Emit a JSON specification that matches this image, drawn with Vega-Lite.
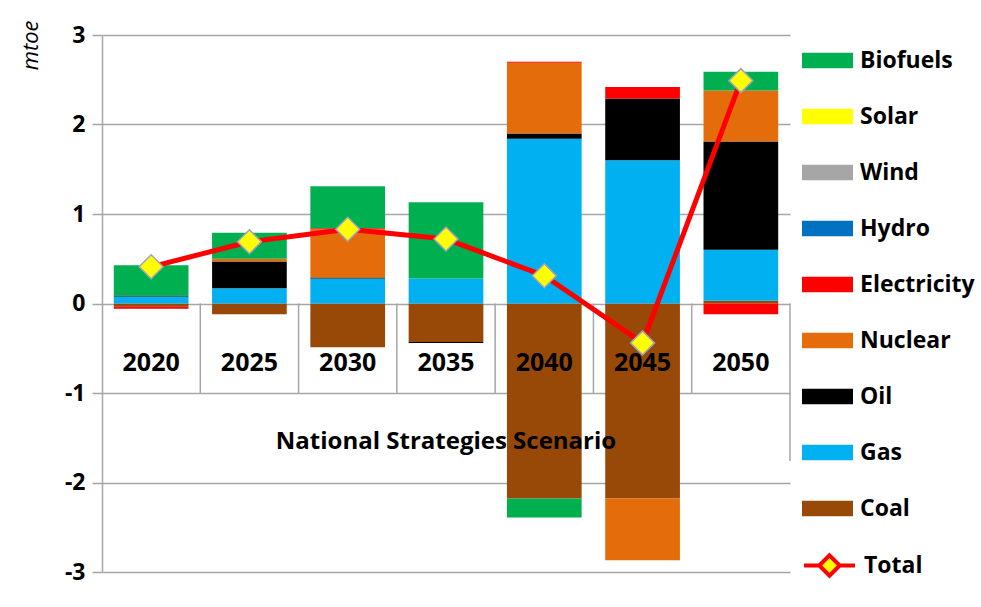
{
  "$schema": "https://vega.github.io/schema/vega-lite/v6.json",
  "width": 688,
  "height": 537,
  "autosize": {"type": "none"},
  "padding": {"left": 102, "top": 35, "right": 191, "bottom": 35},
  "background": "white",
  "config": {
    "view": {"stroke": null},
    "font": "Open Sans",
    "axisY": {
      "grid": true, "gridColor": "#A6A6A6", "gridWidth": 1.5,
      "domainColor": "#A6A6A6", "domainWidth": 1.5,
      "tickColor": "#A6A6A6", "tickWidth": 1.5, "tickSize": 10,
      "labelFont": "Open Sans", "labelFontSize": 23, "labelFontWeight": "bold", "labelColor": "#000000", "labelPadding": 7,
      "titleFont": "Open Sans", "titleFontSize": 22, "titleFontStyle": "italic", "titleFontWeight": "normal",
      "titleAnchor": "end", "titlePadding": 22, "titleColor": "#000000", "titleY": -15
    },
    "legend": {
      "orient": "right", "offset": 12, "padding": 0,
      "labelFont": "Open Sans", "labelFontSize": 23, "labelFontWeight": "bold", "labelColor": "#000000",
      "labelOffset": 7, "labelLimit": 200, "rowPadding": 18
    }
  },
  "datasets": {
    "energy": [
      {"year": "2020", "source": "Coal", "ord": 1, "value": -0.035},
      {"year": "2020", "source": "Gas", "ord": 2, "value": 0.078},
      {"year": "2020", "source": "Oil", "ord": 3, "value": 0.01},
      {"year": "2020", "source": "Electricity", "ord": 5, "value": -0.025},
      {"year": "2020", "source": "Biofuels", "ord": 9, "value": 0.34},
      {"year": "2025", "source": "Coal", "ord": 1, "value": -0.12},
      {"year": "2025", "source": "Gas", "ord": 2, "value": 0.17},
      {"year": "2025", "source": "Oil", "ord": 3, "value": 0.30},
      {"year": "2025", "source": "Nuclear", "ord": 4, "value": 0.03},
      {"year": "2025", "source": "Biofuels", "ord": 9, "value": 0.29},
      {"year": "2030", "source": "Coal", "ord": 1, "value": -0.49},
      {"year": "2030", "source": "Gas", "ord": 2, "value": 0.28},
      {"year": "2030", "source": "Oil", "ord": 3, "value": 0.01},
      {"year": "2030", "source": "Nuclear", "ord": 4, "value": 0.54},
      {"year": "2030", "source": "Electricity", "ord": 5, "value": 0.01},
      {"year": "2030", "source": "Biofuels", "ord": 9, "value": 0.47},
      {"year": "2035", "source": "Coal", "ord": 1, "value": -0.43},
      {"year": "2035", "source": "Gas", "ord": 2, "value": 0.28},
      {"year": "2035", "source": "Oil", "ord": 3, "value": -0.01},
      {"year": "2035", "source": "Biofuels", "ord": 9, "value": 0.85},
      {"year": "2040", "source": "Coal", "ord": 1, "value": -2.18},
      {"year": "2040", "source": "Gas", "ord": 2, "value": 1.84},
      {"year": "2040", "source": "Oil", "ord": 3, "value": 0.06},
      {"year": "2040", "source": "Nuclear", "ord": 4, "value": 0.79},
      {"year": "2040", "source": "Electricity", "ord": 5, "value": 0.01},
      {"year": "2040", "source": "Biofuels", "ord": 9, "value": -0.21},
      {"year": "2045", "source": "Coal", "ord": 1, "value": -2.18},
      {"year": "2045", "source": "Gas", "ord": 2, "value": 1.60},
      {"year": "2045", "source": "Oil", "ord": 3, "value": 0.69},
      {"year": "2045", "source": "Nuclear", "ord": 4, "value": -0.69},
      {"year": "2045", "source": "Electricity", "ord": 5, "value": 0.13},
      {"year": "2050", "source": "Coal", "ord": 1, "value": 0.03},
      {"year": "2050", "source": "Gas", "ord": 2, "value": 0.57},
      {"year": "2050", "source": "Oil", "ord": 3, "value": 1.21},
      {"year": "2050", "source": "Nuclear", "ord": 4, "value": 0.57},
      {"year": "2050", "source": "Electricity", "ord": 5, "value": -0.12},
      {"year": "2050", "source": "Biofuels", "ord": 9, "value": 0.21}
    ],
    "total": [
      {"year": "2020", "series": "Total", "total": 0.41},
      {"year": "2025", "series": "Total", "total": 0.69},
      {"year": "2030", "series": "Total", "total": 0.83},
      {"year": "2035", "series": "Total", "total": 0.72},
      {"year": "2040", "series": "Total", "total": 0.31},
      {"year": "2045", "series": "Total", "total": -0.44},
      {"year": "2050", "series": "Total", "total": 2.49}
    ],
    "years": [
      {"year": "2020"}, {"year": "2025"}, {"year": "2030"}, {"year": "2035"},
      {"year": "2040"}, {"year": "2045"}, {"year": "2050"}
    ]
  },
  "layer": [
    {
      "data": {"name": "energy"},
      "mark": {"type": "bar", "width": {"band": 0.76}},
      "encoding": {
        "x": {"field": "year", "type": "nominal",
              "scale": {"domain": ["2020", "2025", "2030", "2035", "2040", "2045", "2050"], "paddingInner": 0, "paddingOuter": 0},
              "axis": null},
        "y": {"field": "value", "type": "quantitative", "stack": "zero", "title": "mtoe",
              "scale": {"domain": [-3, 3], "nice": false},
              "axis": {"values": [-3, -2, -1, 0, 1, 2, 3], "labelExpr": "'' + datum.value"}},
        "color": {"field": "source", "type": "nominal",
                  "scale": {"domain": ["Biofuels", "Solar", "Wind", "Hydro", "Electricity", "Nuclear", "Oil", "Gas", "Coal"],
                            "range": ["#00B050", "#FFFF00", "#A6A6A6", "#0070C0", "#FF0000", "#E46C0A", "#000000", "#00B0F0", "#984807"]},
                  "legend": {"title": null, "symbolType": "M-1,-0.3H1V0.3H-1Z", "symbolSize": 2601, "symbolStrokeWidth": 0}},
        "order": {"field": "ord", "type": "quantitative"}
      }
    },
    {
      "data": {"name": "years"},
      "transform": [{"filter": "datum.year != '2020'"}],
      "mark": {"type": "rule", "color": "#A6A6A6", "strokeWidth": 1.5},
      "encoding": {
        "x": {"field": "year", "type": "nominal", "bandPosition": 0},
        "y": {"datum": 0, "title": "mtoe"},
        "y2": {"datum": -1}
      }
    },
    {
      "data": {"name": "years"},
      "transform": [{"filter": "datum.year == '2050'"}],
      "mark": {"type": "rule", "color": "#A6A6A6", "strokeWidth": 1.5},
      "encoding": {
        "x": {"field": "year", "type": "nominal", "bandPosition": 1},
        "y": {"datum": 0, "title": "mtoe"},
        "y2": {"datum": -1.76}
      }
    },
    {
      "data": {"name": "years"},
      "mark": {"type": "text", "font": "Open Sans", "fontSize": 25, "fontWeight": "bold", "color": "#000000", "baseline": "middle"},
      "encoding": {
        "x": {"field": "year", "type": "nominal"},
        "y": {"datum": -0.67, "title": "mtoe"},
        "text": {"field": "year"}
      }
    },
    {
      "data": {"values": [{"label": "National Strategies Scenario"}]},
      "mark": {"type": "text", "font": "Open Sans", "fontSize": 24, "fontWeight": "bold", "color": "#000000", "baseline": "middle"},
      "encoding": {
        "x": {"datum": "2035"},
        "y": {"datum": -1.545, "title": "mtoe"},
        "text": {"field": "label"}
      }
    },
    {
      "data": {"name": "total"},
      "mark": {"type": "line", "strokeWidth": 5},
      "encoding": {
        "x": {"field": "year", "type": "nominal"},
        "y": {"field": "total", "type": "quantitative", "title": "mtoe"},
        "stroke": {"field": "series", "type": "nominal",
                   "scale": {"domain": ["Total"], "range": ["#FF0000"]},
                   "legend": {"title": " ", "titleFontSize": 1, "titlePadding": 8,
                              "symbolType": "M-1,0H-0.4M0.4,0H1M0,-0.4L0.4,0L0,0.4L-0.4,0Z",
                              "symbolSize": 2601, "symbolStrokeWidth": 4, "symbolFillColor": "#FFFF00"}}
      }
    },
    {
      "data": {"name": "total"},
      "mark": {"type": "point", "shape": "diamond", "filled": true, "fill": "#FFFF00", "stroke": "#A0A0C0", "strokeWidth": 1.5, "size": 576, "opacity": 1},
      "encoding": {
        "x": {"field": "year", "type": "nominal"},
        "y": {"field": "total", "type": "quantitative", "title": "mtoe"}
      }
    }
  ]
}
